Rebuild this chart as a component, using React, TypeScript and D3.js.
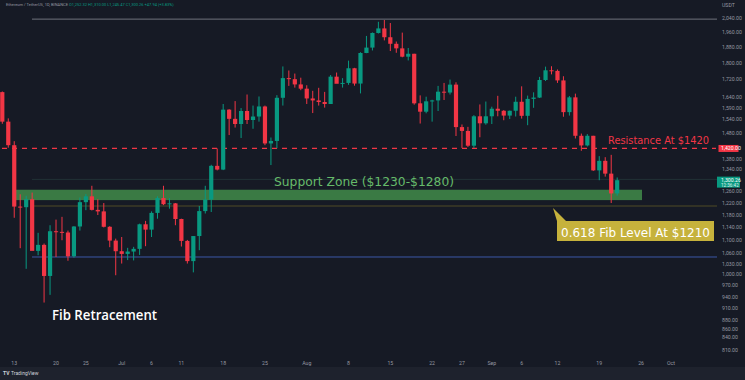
import React from "react";
import * as d3 from "d3";

// ETH/USDT daily candles, Jun 11 – Sep 22 (one entry per consecutive day)
const startDate = "2022-06-11";
const opens = [1661,1530,1433,1208,1206,1233,1068,1086,996,1128,1126,1124,1052,1143,1223,1243,1197,1192,1142,1099,
  1067,1059,1066,1074,1150,1133,1187,1237,1216,1219,1167,1098,1038,1113,1193,1232,1353,1339,1582,1542,1520,1576,1537,1552,1596,1440,1450,1635,1727,1722,1697,
  1677,1632,1623,1616,1607,1734,1700,1704,1775,1701,1852,1880,1958,1983,1935,1900,1876,1833,1848,1610,1573,1619,1623,1663,1659,1696,1507,1491,1431,1553,1523,
  1553,1586,1577,1556,1577,1617,1555,1630,1636,1718,1765,1762,1716,1571,1637,1471,1432,1471,1336,1372,1324,1253];
const highs = [1664,1544,1449,1250,1245,1256,1123,1090,1147,1165,1174,1130,1144,1239,1251,1280,1233,1220,1144,1105,
  1110,1077,1080,1152,1161,1192,1243,1280,1237,1220,1168,1101,1112,1210,1280,1357,1420,1607,1584,1620,1589,1650,1600,1641,1600,1464,1647,1784,1764,1749,1729,
  1693,1667,1681,1662,1742,1754,1727,1813,1777,1856,1942,1961,2020,2030,2013,1912,1960,1878,1848,1646,1640,1626,1690,1704,1720,1707,1518,1508,1558,1605,1618,
  1595,1644,1580,1578,1640,1688,1645,1660,1733,1783,1785,1769,1736,1643,1654,1480,1478,1471,1390,1386,1395,1310];
const lows = [1521,1423,1171,1076,1016,1071,1055,925,945,1050,1100,1039,1048,1130,1196,1195,1180,1140,1079,998,
  1031,1041,1040,1056,1082,1110,1168,1213,1201,1147,1081,1031,1006,1070,1185,1190,1336,1337,1474,1505,1462,1520,1500,1530,1433,1356,1421,1600,1690,1682,1670,
  1607,1567,1600,1591,1607,1708,1682,1695,1691,1655,1851,1865,1955,1918,1862,1853,1830,1814,1604,1522,1566,1530,1576,1625,1650,1470,1422,1426,1422,1465,1517,
  1520,1553,1536,1541,1552,1543,1515,1590,1634,1713,1745,1704,1551,1556,1460,1411,1428,1334,1300,1313,1220,1245];
const closes = [1530,1433,1208,1206,1233,1068,1086,996,1128,1126,1124,1052,1143,1223,1243,1197,1192,1142,1099,1067,
  1059,1066,1074,1150,1133,1187,1237,1216,1219,1167,1098,1038,1113,1193,1232,1353,1339,1582,1542,1520,1576,1537,1552,1596,1440,1450,1635,1727,1722,1697,1677,
  1632,1623,1616,1607,1734,1700,1704,1775,1701,1852,1880,1958,1983,1935,1900,1876,1833,1848,1610,1573,1619,1623,1663,1659,1696,1507,1491,1431,1553,1523,1553,
  1586,1577,1556,1577,1617,1555,1630,1636,1718,1765,1762,1716,1571,1637,1471,1432,1471,1336,1372,1324,1253,1300];

// Right price axis
const priceTicks = [2040,1960,1880,1800,1720,1640,1590,1540,1480,1380,1340,1260,1220,1180,1140,1100,1060,1030,1000,970,940,910,880,860,840,810];
// Bottom time axis
const timeTickDates = ["2022-06-13","2022-06-20","2022-06-25","2022-07-01","2022-07-06","2022-07-11","2022-07-18","2022-07-25","2022-08-01","2022-08-08","2022-08-15","2022-08-22","2022-08-27","2022-09-01","2022-09-06","2022-09-12","2022-09-19","2022-09-26","2022-10-01"];
const timeTickLabels = ["13","20","25","Jul","6","11","18","25","Aug","8","15","22","27","Sep","6","12","19","26","Oct"];

// Drawings
const fibPrices = [2035, 1303, 1210, 1050];
const fibColors = ["#6f737d", "#223236", "#4e4a26", "#3c58a6"];
const supportZone = [1230, 1266];
const resistance = 1420;
const lastPrice = 1300.26;

const W = 745, H = 380;

export default function App() {
  const parse = d3.utcParse("%Y-%m-%d");
  const x = d3.scaleUtc().domain([parse("2022-06-11")!, parse("2022-10-01")!]).range([2.3, 670.9]);
  const y = d3.scaleLog().domain([1210, 2030]).range([206, 20]);
  const start = parse(startDate)!;
  const days = closes.map((_, i) => d3.utcDay.offset(start, i));
  const fmt = d3.format(",.2f");
  const bw = 4.2;
  const up = "#089981", dn = "#f23645";

  return (
    <div style={{ position: "fixed", left: 0, top: 0 }}>
      <svg width={W} height={H} style={{ display: "block" }}>
        <rect width={W} height={H} fill="#161a25" />
        <rect y={367} width={W} height={13} fill="#1e222d" />

        {fibPrices.map((p, i) => (
          <line key={"f" + i} x1={32} x2={717} y1={y(p)} y2={y(p)} stroke={fibColors[i]} strokeWidth={1} />
        ))}

        <rect x={16} width={626} y={y(supportZone[1])} height={y(supportZone[0]) - y(supportZone[1])} fill="#3a7a44" />

        <line x1={2} x2={716} y1={y(resistance)} y2={y(resistance)} stroke="#f23645" strokeWidth={1.3} strokeDasharray="5 5" />

        {days.map((d, i) => {
          const cx = x(d);
          const o = opens[i], c = closes[i];
          const col = c >= o ? up : dn;
          const top = y(Math.max(o, c)), bot = y(Math.min(o, c));
          return (
            <g key={i}>
              <line x1={cx} x2={cx} y1={y(highs[i])} y2={y(lows[i])} stroke={col} strokeWidth={1} />
              <rect x={cx - bw / 2} y={top} width={bw} height={Math.max(1, bot - top)} fill={col} />
            </g>
          );
        })}

        <text x={274} y={186} fontFamily="DejaVu Sans" fontSize={13} fill="#66bb6a" textLength={180} lengthAdjust="spacingAndGlyphs">Support Zone ($1230-$1280)</text>
        <text x={608} y={143.5} fontFamily="DejaVu Sans" fontSize={11} fill="#f23645" textLength={101} lengthAdjust="spacingAndGlyphs">Resistance At $1420</text>

        <polygon points="553,208 557,221 566,221" fill="#c6b23c" />
        <rect x={557} y={221} width={157} height={20} fill="#c6b23c" />
        <text x={561} y={236.5} fontFamily="DejaVu Sans" fontSize={13} fill="#ffffff" textLength={149} lengthAdjust="spacingAndGlyphs">0.618 Fib Level At $1210</text>

        <text x={52} y={320} fontFamily="Open Sans" fontWeight={600} fontSize={14} fill="#ffffff" textLength={105} lengthAdjust="spacingAndGlyphs">Fib Retracement</text>

        {priceTicks.map((p, i) => (
          <text key={"p" + i} x={722} y={y(p)} dy="0.35em" fontFamily="Roboto" fontSize={5.2} fill="#9598a1">{fmt(p)}</text>
        ))}
        <text x={722} y={5} dy="0.35em" fontFamily="Roboto" fontSize={5.2} fill="#9598a1">USDT</text>

        <rect x={718.5} y={y(resistance) - 3.5} width={20} height={7} fill="#f23645" />
        <text x={721} y={y(resistance)} dy="0.35em" fontFamily="Roboto" fontSize={5.2} fill="#ffffff">{fmt(resistance)}</text>

        <rect x={717} y={y(lastPrice) - 3.5} width={23} height={11} fill="#089981" />
        <text x={721} y={y(lastPrice)} dy="0.35em" fontFamily="Roboto" fontSize={5.2} fill="#ffffff">{fmt(lastPrice)}</text>
        <text x={721} y={y(lastPrice) + 5} dy="0.35em" fontFamily="Roboto" fontSize={4.6} fill="#e0f2ee">12:36:42</text>

        {timeTickDates.map((t, i) => (
          <text key={"t" + i} x={x(parse(t)!)} y={363} dy="0.35em" textAnchor="middle" fontFamily="Roboto" fontSize={5.2} fill="#9598a1">{timeTickLabels[i]}</text>
        ))}

        <text x={6} y={4.5} dy="0.35em" fontFamily="Roboto" fontSize={4} fill="#9598a1">
          Ethereum / TetherUS, 1D, BINANCE{" "}
          <tspan fill="#089981">O1,252.32 H1,310.00 L1,245.47 C1,300.26 +47.94 (+3.83%)</tspan>
        </text>

        <text x={3} y={373.5} dy="0.35em" fontFamily="Roboto" fontSize={5} fontWeight={700} fill="#d1d4dc">TV</text>
        <text x={11} y={373.5} dy="0.35em" fontFamily="Roboto" fontSize={5} fill="#d1d4dc">TradingView</text>
      </svg>
    </div>
  );
}
